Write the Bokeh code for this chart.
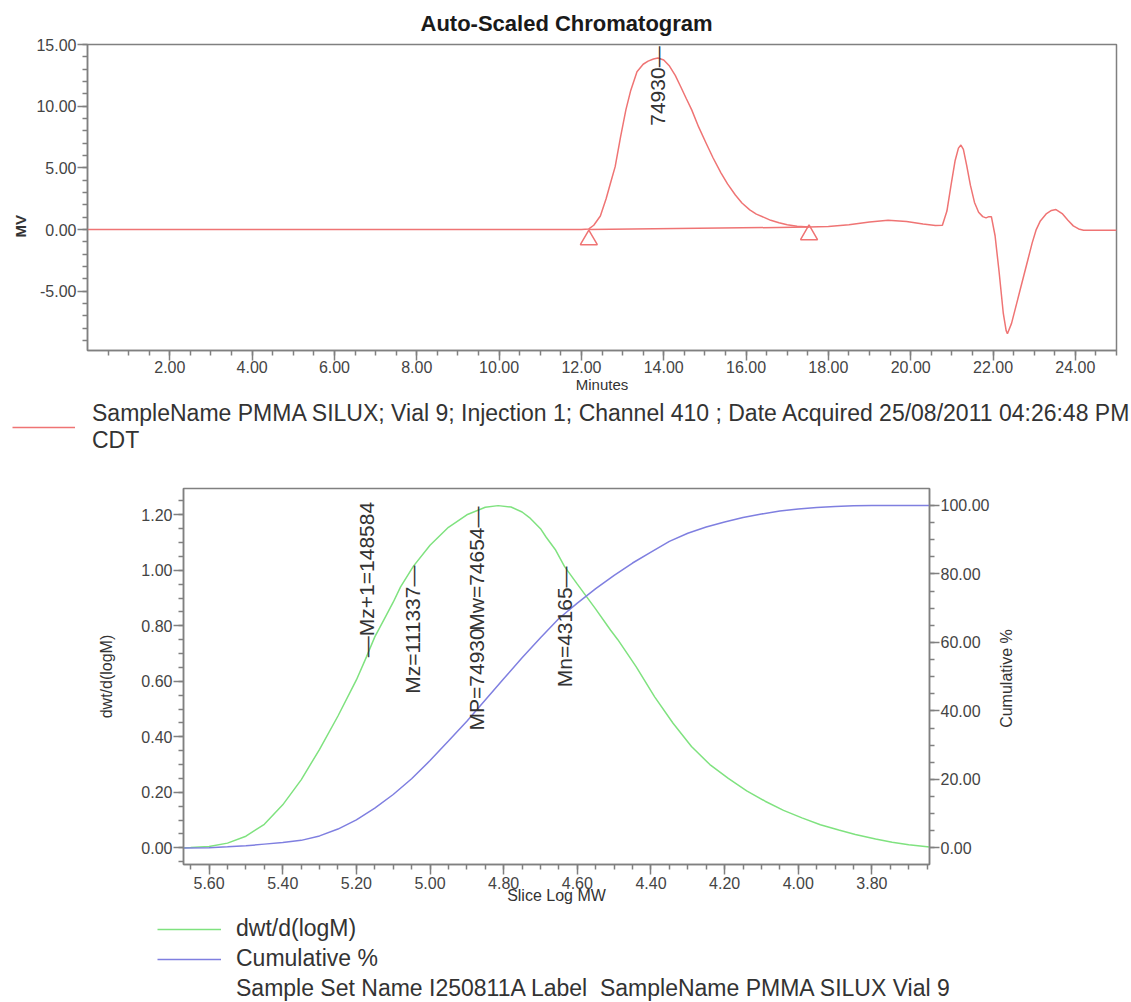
import math
from bokeh.plotting import figure
from bokeh.models import (Range1d, LinearAxis, FixedTicker, NumeralTickFormatter,
                          Title, Legend, LegendItem)
from bokeh.embed import file_html
from bokeh.resources import INLINE
from bokeh.core.properties import value

# ---------------- Chromatogram data ----------------
chrom_minutes = [0.0, 4.0, 8.0, 12.0, 12.18, 12.3, 12.46, 12.6, 12.7, 12.82, 12.95, 13.08,
                 13.2, 13.35, 13.5, 13.62, 13.75, 13.86, 14.0, 14.14, 14.28, 14.41, 14.55,
                 14.68, 14.85, 15.03, 15.2, 15.39, 15.55, 15.74, 15.9, 16.09, 16.25, 16.45,
                 16.6, 16.8, 17.0, 17.24, 17.53, 18.0, 18.5, 19.0, 19.45, 19.9, 20.3, 20.6,
                 20.77, 20.88, 20.98, 21.08, 21.16, 21.22, 21.28, 21.36, 21.45, 21.55, 21.65,
                 21.75, 21.83, 21.9, 21.96, 22.05, 22.15, 22.25, 22.32, 22.35, 22.45, 22.55,
                 22.65, 22.75, 22.85, 22.95, 23.05, 23.15, 23.3, 23.42, 23.53, 23.68, 23.82,
                 23.95, 24.08, 24.2, 25.0]
chrom_mv = [0.0, 0.0, 0.0, 0.0, 0.05, 0.35, 1.1, 2.5, 3.7, 5.1, 7.5, 9.7,
            11.3, 12.8, 13.4, 13.65, 13.82, 13.9, 13.75, 13.25, 12.5, 11.6, 10.6,
            9.7, 8.3, 7.0, 5.8, 4.6, 3.7, 2.8, 2.15, 1.6, 1.25, 0.97,
            0.75, 0.55, 0.4, 0.27, 0.2, 0.25, 0.4, 0.62, 0.75, 0.65, 0.45, 0.33,
            0.35, 1.5, 3.6, 5.6, 6.6, 6.85, 6.5, 5.2, 3.6, 2.2, 1.4,
            1.05, 0.95, 1.05, 1.05, -0.5, -3.5, -6.8, -8.2, -8.45, -7.6, -6.3,
            -5.0, -3.7, -2.4, -1.1, 0.0, 0.7, 1.3, 1.55, 1.62, 1.3, 0.75,
            0.3, 0.05, -0.05, -0.05]
peak_minute = [13.86]
peak_label_mv = [14.85]
peak_text = ["74930\u2014"]
integration_minutes = [12.18, 17.53]
integration_mv = [0.0, 0.2]
integration_marker_mv = [-0.83, -0.42]

chrom_x_ticks = [2, 4, 6, 8, 10, 12, 14, 16, 18, 20, 22, 24]
chrom_y_ticks = [-5, 0, 5, 10, 15]
chrom_legend = ("SampleName PMMA SILUX; Vial 9; Injection 1; Channel 410 ; "
                "Date Acquired 25/08/2011 04:26:48 PM\nCDT")

# ---------------- Molecular weight distribution data ----------------
slice_log_mw = [5.6695, 5.65, 5.60, 5.55, 5.50, 5.45, 5.40, 5.35, 5.30, 5.25, 5.20, 5.172,
                5.15, 5.12, 5.10, 5.08, 5.045, 5.00, 4.95, 4.90, 4.85, 4.815, 4.78, 4.75,
                4.73, 4.70, 4.685, 4.66, 4.635, 4.60, 4.575, 4.55, 4.51, 4.49, 4.44, 4.39,
                4.34, 4.29, 4.24, 4.19, 4.14, 4.09, 4.04, 3.99, 3.94, 3.89, 3.845, 3.79,
                3.745, 3.70, 3.6436]
dwt_dlogm = [0.0, 0.001, 0.005, 0.017, 0.042, 0.085, 0.155, 0.245, 0.355, 0.475, 0.605, 0.69,
             0.76, 0.835, 0.885, 0.94, 1.015, 1.09, 1.155, 1.20, 1.227, 1.233, 1.228, 1.21,
             1.19, 1.15, 1.12, 1.075, 1.014, 0.95, 0.905, 0.86, 0.785, 0.75, 0.652, 0.544,
             0.449, 0.365, 0.30, 0.25, 0.205, 0.168, 0.135, 0.108, 0.083, 0.064, 0.048, 0.032,
             0.02, 0.011, 0.003]
cum_log_mw = [5.6695, 5.60, 5.55, 5.50, 5.45, 5.40, 5.35, 5.30, 5.25, 5.20, 5.15, 5.10,
              5.05, 5.00, 4.95, 4.90, 4.85, 4.80, 4.75, 4.70, 4.65, 4.60, 4.55, 4.50,
              4.45, 4.40, 4.35, 4.30, 4.25, 4.20, 4.15, 4.10, 4.05, 4.00, 3.95, 3.90,
              3.85, 3.80, 3.70, 3.6436]
cumulative_pct = [0.0, 0.05, 0.3, 0.6, 1.1, 1.6, 2.2, 3.5, 5.5, 8.2, 11.6, 15.6,
                  20.2, 25.5, 31.2, 37.0, 43.2, 49.4, 55.5, 61.4, 67.0, 71.5, 75.7, 79.6,
                  83.2, 86.4, 89.5, 91.9, 93.7, 95.2, 96.5, 97.5, 98.4, 99.0, 99.4, 99.7,
                  99.9, 100.0, 100.0, 100.0]

# MW averages drawn as markers on the distribution
stat_up_text = ["\u2014Mz+1=148584", "MP=74930"]
stat_up_log_mw = [5.1720, 4.8746]
stat_up_anchor = [0.687, 0.423]
stat_down_text = ["Mz=111337\u2014", "Mw=74654\u2014", "Mn=43165\u2014"]
stat_down_log_mw = [5.0466, 4.8731, 4.6351]
stat_down_anchor = [1.017, 1.230, 1.014]

mwd_x_ticks = [5.6, 5.4, 5.2, 5.0, 4.8, 4.6, 4.4, 4.2, 4.0, 3.8]
mwd_y_ticks = [0.0, 0.2, 0.4, 0.6, 0.8, 1.0, 1.2]
cum_y_ticks = [0, 20, 40, 60, 80, 100]
cum_axis_title = "Cumulative %"
mwd_legend = ["dwt/d(logM)", "Cumulative %",
              "Sample Set Name I250811A Label  SampleName PMMA SILUX Vial 9"]

# ---------------- styling ----------------
FONT = "Liberation Sans"
RED = "#ef7474"
GREEN = "#7fe27f"
BLUE = "#7f7fe0"
FRAME = "#808080"
TXT = "#444444"
LBL = "#333333"
W = 1131
H1, HL1, H2, HL2 = 398, 57, 452, 95


def style_axis(ax, standoff):
    ax.formatter = NumeralTickFormatter(format="0.00")
    ax.major_label_text_font = FONT
    ax.major_label_text_font_size = "16px"
    ax.major_label_text_color = TXT
    ax.axis_line_color = FRAME
    ax.axis_line_width = 1.5
    ax.major_tick_line_color = FRAME
    ax.minor_tick_line_color = FRAME
    ax.major_tick_line_width = 1.5
    ax.minor_tick_line_width = 1.5
    ax.major_tick_in = 0
    ax.major_tick_out = 10
    ax.minor_tick_in = 0
    ax.minor_tick_out = 5
    ax.major_label_standoff = standoff
    ax.axis_label_text_font = FONT
    ax.axis_label_text_font_style = "normal"
    ax.axis_label_text_color = LBL


def base_fig(height, left, right, top, bottom, xr, yr):
    p = figure(width=W, height=height, output_backend="svg", toolbar_location=None,
               x_range=xr, y_range=yr, min_border_left=left, min_border_right=right,
               min_border_top=top, min_border_bottom=bottom)
    p.grid.visible = False
    p.outline_line_color = FRAME
    p.outline_line_width = 1.5
    p.background_fill_color = "white"
    p.border_fill_color = "white"
    return p


def bare_fig(width, height, xr, yr):
    f = figure(width=width, height=height, output_backend="svg", toolbar_location=None,
               x_axis_location=None, y_axis_location=None, min_border=0,
               x_range=xr, y_range=yr)
    f.grid.visible = False
    f.outline_line_color = None
    return f


def style_legend(leg, size, standoff):
    leg.glyph_width = 63
    leg.label_standoff = standoff
    leg.padding = 0
    leg.margin = 0
    leg.border_line_alpha = 0
    leg.background_fill_alpha = 0
    leg.label_text_font = FONT
    leg.label_text_font_size = size
    leg.label_text_color = LBL


# ---------------- top figure: chromatogram ----------------
F1L, F1T, F1W, F1H = 87, 44, 1029, 306
p1 = base_fig(H1, F1L, W - F1L - F1W, F1T, H1 - F1T - F1H, Range1d(0, 25), Range1d(-9.8, 15))
style_axis(p1.xaxis[0], 0)
style_axis(p1.yaxis[0], 1)
p1.xaxis.ticker = FixedTicker(ticks=chrom_x_ticks, minor_ticks=[i * 0.5 for i in range(1, 51)])
p1.yaxis.ticker = FixedTicker(ticks=chrom_y_ticks, minor_ticks=list(range(-9, 16)))
p1.xaxis.axis_label = "Minutes"
p1.xaxis.axis_label_text_font_size = "15px"
p1.xaxis.axis_label_standoff = 0

p1.title.text = "Auto-Scaled Chromatogram"
p1.title.text_font = FONT
p1.title.text_font_size = "22px"
p1.title.text_font_style = "bold"
p1.title.text_color = "#1a1a1a"
p1.title.align = "left"
p1.title.offset = 333
p1.title.standoff = 17

p1.add_layout(Title(text="MV", text_font=FONT, text_font_size="15px", text_font_style="bold",
                    text_color=LBL, align="left", offset=113), "left")

p1.line(chrom_minutes, chrom_mv, line_color=RED, line_width=1.5)
p1.line(integration_minutes, integration_mv, line_color=RED, line_width=1.5)
p1.scatter(integration_minutes, integration_marker_mv, marker="triangle", size=17,
           fill_alpha=0, line_color=RED, line_width=1.5)
p1.text(x=peak_minute, y=peak_label_mv, text=peak_text, angle=math.pi / 2,
        text_align="right", text_baseline="middle", text_font=value(FONT),
        text_font_size="21px", text_color=LBL)

# legend strip of the chromatogram (ranges keep the swatch data out of view)
l1 = bare_fig(W, HL1, Range1d(1000, 1001), Range1d(1000, 1001))
l1.border_fill_color = "white"
sw1 = l1.line(chrom_minutes, chrom_mv, line_color=RED, line_width=1.5)
leg1 = Legend(items=[LegendItem(label=chrom_legend, renderers=[sw1])], location=(12, 1))
style_legend(leg1, "23px", 17)
l1.add_layout(leg1, "center")

# ---------------- bottom figure: MWD ----------------
F2L, F2T, F2W, F2H = 183, 33, 746, 376
p2 = base_fig(H2, F2L, W - F2L - F2W, F2T, H2 - F2T - F2H,
              Range1d(5.6695, 3.6436), Range1d(-0.06, 1.2947))
p2.extra_y_ranges = {"cum": Range1d(-4.85, 104.96)}
right_axis = LinearAxis(y_range_name="cum")
p2.add_layout(right_axis, "right")
style_axis(p2.xaxis[0], 2)
style_axis(p2.yaxis[0], 1)
style_axis(right_axis, 1)
p2.xaxis.ticker = FixedTicker(ticks=mwd_x_ticks,
                              minor_ticks=[round(3.65 + 0.05 * i, 2) for i in range(41)])
p2.yaxis[0].ticker = FixedTicker(ticks=mwd_y_ticks,
                                 minor_ticks=[round(-0.05 + 0.05 * i, 2) for i in range(27)])
right_axis.ticker = FixedTicker(ticks=cum_y_ticks, minor_ticks=list(range(-5, 106, 5)))

p2.xaxis.axis_label = "Slice Log MW"
p2.xaxis.axis_label_text_font_size = "16px"
p2.xaxis.axis_label_standoff = -5
p2.yaxis[0].axis_label = "dwt/d(logM)"
p2.yaxis[0].axis_label_text_font_size = "16px"
p2.yaxis[0].axis_label_standoff = 23

p2.line(slice_log_mw, dwt_dlogm, line_color=GREEN, line_width=1.5)
p2.line(cum_log_mw, cumulative_pct, line_color=BLUE, line_width=1.5, y_range_name="cum")

p2.text(x=stat_up_log_mw, y=stat_up_anchor, text=stat_up_text, angle=math.pi / 2,
        text_align="left", text_baseline="middle", text_font=value(FONT),
        text_font_size="21px", text_color=LBL)
p2.text(x=stat_down_log_mw, y=stat_down_anchor, text=stat_down_text, angle=math.pi / 2,
        text_align="right", text_baseline="middle", text_font=value(FONT),
        text_font_size="21px", text_color=LBL)

# legend strip of the distribution
l2 = bare_fig(W, HL2, Range1d(1000, 1001), Range1d(1000, 1001))
l2.border_fill_color = "white"
sw_g = l2.line(slice_log_mw, dwt_dlogm, line_color=GREEN, line_width=1.5)
sw_b = l2.line(cum_log_mw, cumulative_pct, line_color=BLUE, line_width=1.5)
sw_n = l2.line(cum_log_mw, cumulative_pct, line_alpha=0)
leg2 = Legend(items=[LegendItem(label=mwd_legend[0], renderers=[sw_g]),
                     LegendItem(label=mwd_legend[1], renderers=[sw_b]),
                     LegendItem(label=mwd_legend[2], renderers=[sw_n])],
              location=(157, 0))
style_legend(leg2, "23px", 15)
leg2.glyph_width = 64
leg2.spacing = 3
l2.add_layout(leg2, "center")

roots = [p1, l1, p2, l2]

# title of the right-hand axis, read bottom-to-top, laid over the page beside the axis
p3 = bare_fig(30, 140, Range1d(0, 1), Range1d(0, 1))
p3.background_fill_alpha = 0
p3.border_fill_alpha = 0
p3.text(x=[0.5], y=[0.5], text=[cum_axis_title], angle=math.pi / 2, text_align="center",
        text_baseline="middle", text_font=value(FONT), text_font_size="16px", text_color=LBL)
try:
    p3.styles = {"position": "absolute", "left": "991px", "top": "608px"}
    roots.append(p3)
except Exception:
    right_axis.axis_label = cum_axis_title
    right_axis.axis_label_text_font_size = "16px"
    right_axis.axis_label_standoff = 8

open("out.html", "w").write(file_html(roots, INLINE))
